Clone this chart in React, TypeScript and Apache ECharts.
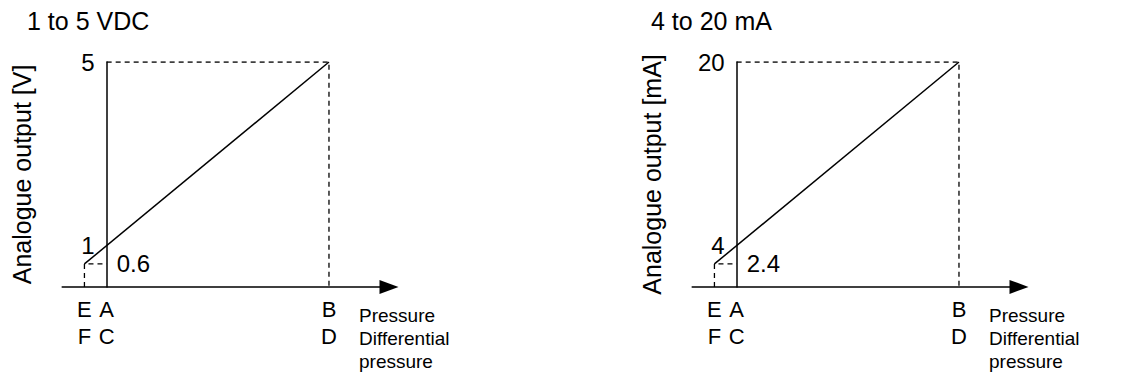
import React, { useEffect, useRef } from "react";
import * as echarts from "echarts";

// Pressure positions (A = lower range limit, B = upper range limit, E = point below A)
const pressurePositions = [-0.1, 0, 1];
const pressureTickLabels = ["E\nF", "A\nC", "B\nD"];

// 1 to 5 VDC output
const voltageTicks = [1, 5];
const voltageLow = 0.6;
const voltageMax = 5;
const voltageAxisMin = 0.1;

// 4 to 20 mA output
const currentTicks = [4, 20];
const currentLow = 2.4;
const currentMax = 20;
const currentAxisMin = 0.4;

const titles = ["1 to 5 VDC", "4 to 20 mA"];
const yNames = ["Analogue output [V]", "Analogue output [mA]"];
const pressureText = "Pressure\nDifferential\npressure";

const FONT = "'Liberation Sans', Arial, Helvetica, sans-serif";
const BLACK = "#000";

export default function App() {
  const ref = useRef<HTMLDivElement>(null);
  useEffect(() => {
    if (!ref.current) return;
    const chart = echarts.init(ref.current, null, { renderer: "svg" });
    const [E, A, B] = pressurePositions;

    const xMin = -0.2;
    const xMax = 1.27;
    const gridWidth = 326.8;
    const yAxisOffset = -((A - xMin) / (xMax - xMin)) * gridWidth;

    const gridLefts = [62.2, 692.2];
    const grids = gridLefts.map((left) => ({
      left,
      top: 62,
      width: gridWidth,
      height: 224.9,
      containLabel: false,
      outerBoundsMode: "none",
    }));

    const xAxes = [0, 1].map((i) => ({
      type: "value",
      gridIndex: i,
      min: xMin,
      max: xMax,
      splitLine: { show: false },
      axisTick: { show: false },
      axisLine: {
        show: true,
        onZero: false,
        symbol: ["none", "triangle"],
        symbolSize: [14, 19],
        lineStyle: { color: BLACK, width: 1.5 },
      },
      axisLabel: {
        customValues: pressurePositions,
        formatter: (v: number) => {
          const idx = pressurePositions.findIndex((p) => Math.abs(p - v) < 1e-6);
          return idx >= 0 ? pressureTickLabels[idx] : "";
        },
        color: BLACK,
        fontSize: 22,
        lineHeight: 27,
        margin: 9,
        fontFamily: FONT,
      },
    }));

    const ranges = [
      { ticks: voltageTicks, min: voltageAxisMin, max: voltageMax, low: voltageLow },
      { ticks: currentTicks, min: currentAxisMin, max: currentMax, low: currentLow },
    ];

    const yAxes = ranges.map((r, i) => ({
      type: "value",
      gridIndex: i,
      min: r.min,
      max: r.max,
      offset: yAxisOffset,
      splitLine: { show: false },
      axisTick: { show: false },
      axisLine: {
        show: true,
        onZero: false,
        lineStyle: { color: BLACK, width: 1.5 },
      },
      axisLabel: {
        customValues: r.ticks,
        color: BLACK,
        fontSize: 24,
        margin: 12,
        fontFamily: FONT,
      },
      name: yNames[i],
      nameLocation: "middle",
      nameGap: 72,
      nameTextStyle: { color: BLACK, fontSize: 25, fontFamily: FONT },
    }));

    const series: any[] = [];
    ranges.forEach((r, i) => {
      series.push({
        type: "line",
        xAxisIndex: i,
        yAxisIndex: i,
        data: [
          [E, r.low],
          [B, r.max],
        ],
        symbol: "none",
        lineStyle: { color: BLACK, width: 1.5 },
        silent: true,
      });
      series.push({
        type: "line",
        xAxisIndex: i,
        yAxisIndex: i,
        data: [
          [A, r.max],
          [B, r.max],
          [B, r.min],
        ],
        symbol: "none",
        lineStyle: { color: BLACK, width: 1.3, type: [5, 4] },
        silent: true,
      });
      series.push({
        type: "line",
        xAxisIndex: i,
        yAxisIndex: i,
        data: [
          [E, r.min],
          [E, r.low],
          [A, r.low],
        ],
        symbol: "none",
        lineStyle: { color: BLACK, width: 1.3, type: [5, 4] },
        silent: true,
      });
      series.push({
        type: "scatter",
        xAxisIndex: i,
        yAxisIndex: i,
        data: [[A, r.low]],
        symbolSize: 0,
        silent: true,
        itemStyle: { opacity: 1, color: BLACK },
        label: {
          show: true,
          position: "right",
          distance: 10,
          formatter: String(r.low),
          color: BLACK,
          opacity: 1,
          textBorderWidth: 0,
          fontSize: 24,
          fontFamily: FONT,
        },
      });
    });

    const graphic: any[] = [];
    const titleX = [27, 651];
    const pressX = [359, 989];
    [0, 1].forEach((i) => {
      graphic.push({
        type: "text",
        x: titleX[i],
        y: 21,
        style: {
          text: titles[i],
          fill: BLACK,
          fontSize: 25,
          fontFamily: FONT,
          verticalAlign: "middle",
          align: "left",
        },
      });
      graphic.push({
        type: "text",
        x: pressX[i],
        y: 303.5,
        style: {
          text: pressureText,
          fill: BLACK,
          fontSize: 19,
          lineHeight: 23,
          fontFamily: FONT,
          verticalAlign: "top",
          align: "left",
        },
      });
    });

    chart.setOption({
      animation: false,
      backgroundColor: "#fff",
      textStyle: { fontFamily: FONT },
      grid: grids,
      xAxis: xAxes,
      yAxis: yAxes,
      series,
      graphic,
    });
    return () => chart.dispose();
  }, []);
  return (
    <div
      ref={ref}
      style={{ position: "absolute", left: 0, top: 0, width: 1126, height: 389 }}
    />
  );
}
